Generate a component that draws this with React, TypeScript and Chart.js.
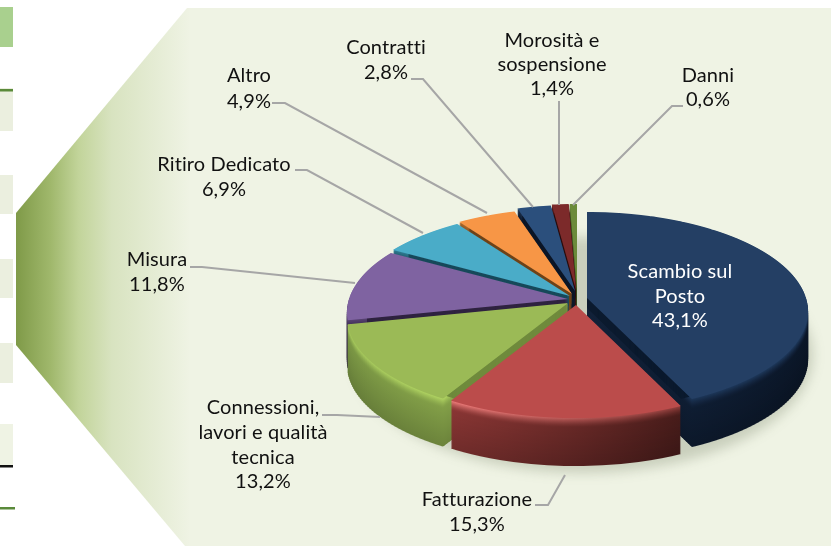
import React, { useEffect, useRef } from "react";
import { Chart, registerables } from "chart.js";

Chart.register(...registerables);

const W = 831;
const H = 547;

// data
const categories = ["Scambio sul Posto", "Fatturazione", "Connessioni, lavori e qualità tecnica", "Misura", "Ritiro Dedicato", "Altro", "Contratti", "Morosità e sospensione", "Danni"];
const shares = [43.1, 15.3, 13.2, 11.8, 6.9, 4.9, 2.8, 1.4, 0.6];
const faceColors = ["#243f64", "#bb4c4b", "#9bba56", "#7f63a1", "#4aacc8", "#f79646", "#2b4f7c", "#7c2a2a", "#6b8a3a"];
const rimLeft = ["#12233c", "#8f3836", "#7f9c47", "#3a2a4e", "#1e4d5c", "#7a4a1e", "#0d1a2d", "#3a1212", "#3d4f20"];
const rimRight = ["#0b1729", "#4a1d1b", "#90ae4e", "#3a2a4e", "#1e4d5c", "#7a4a1e", "#0d1a2d", "#3a1212", "#3d4f20"];
const hiLeft = ["#1c3556", "#f58280", "#a9cc5e", "#5a4575", "#2e7f96", "#b06a2a", "#1a2e4a", "#5a1c1c", "#54702c"];
const hiRight = ["#1f3a5e", "#96403e", "#bfe46a", "#5a4575", "#2e7f96", "#b06a2a", "#1a2e4a", "#5a1c1c", "#54702c"];
const wallColors = ["#0b1a2e", "#5a2422", "#6f8a3c", "#2f2340", "#17495a", "#6e4318", "#0b1526", "#2a0e0e", "#3d4f20"];
const apexX = [587, 576, 568, 568, 570, 572, 575, 576, 577];
const apexY = [298, 305, 303, 299, 296, 294, 291, 290, 290];
const paintOrder = [8, 7, 6, 5, 4, 3, 0, 2, 1];

const labelLines = [
  ["Scambio sul", "Posto", "43,1%"],
  ["Fatturazione", "15,3%"],
  ["Connessioni,", "lavori e qualità", "tecnica", "13,2%"],
  ["Misura", "11,8%"],
  ["Ritiro Dedicato", "6,9%"],
  ["Altro", "4,9%"],
  ["Contratti", "2,8%"],
  ["Morosità e", "sospensione", "1,4%"],
  ["Danni", "0,6%"],
];
const labelX = [680, 477, 263, 157, 224, 249, 386, 552, 708];
const labelY = [272, 500, 408, 260, 165, 76, 48, 41, 76];
const labelStep = [24.5, 24.5, 24.6, 25, 25, 26, 25, 24, 24];
const leaders: number[][][] = [
  [],
  [[535, 505], [548, 505], [565, 475]],
  [[322, 415], [337, 415], [380, 417]],
  [[190, 267], [202, 267], [355, 283]],
  [[295, 170], [307, 170], [423, 233]],
  [[272, 103], [285, 103], [487, 213]],
  [[411, 79], [423, 79], [533, 207]],
  [[559, 101], [559, 205]],
  [[683, 106], [672, 106], [573, 205]],
];

// pie projection
const RX = 219;
const RY = 97.7;
const PERSP = 0.1357;
const DEPTH = 48;
const GLOW_DEPTH = 10;
const FONT = '20px Lato, "Open Sans", sans-serif';

function rgb(c: string) {
  return [1, 3, 5].map((i) => parseInt(c.slice(i, i + 2), 16));
}
function mix(a: string, b: string, t: number) {
  const x = rgb(a);
  const y = rgb(b);
  const out = x.map((v, i) => Math.round(v + (y[i] - v) * t).toString(16).padStart(2, "0"));
  return "#" + out.join("");
}

function sliceRange(arc: any) {
  let minY = 0, maxY = 0, minX = 0, maxX = 0;
  for (let i = 0; i <= 40; i++) {
    const t = arc.startAngle + ((arc.endAngle - arc.startAngle) * i) / 40;
    const x = Math.cos(t), y = Math.sin(t);
    minY = Math.min(minY, y); maxY = Math.max(maxY, y);
    minX = Math.min(minX, x); maxX = Math.max(maxX, x);
  }
  return { minX, maxX, minY, maxY };
}

function drawProjected(ctx: CanvasRenderingContext2D, arc: any, ax: number, ay: number, fill: any, h: number, shrink = 1) {
  const R = arc.outerRadius;
  const range = sliceRange(arc);
  const top = Math.floor(ay + (RY * range.minY) / (1 - PERSP * range.minY)) - 1;
  const bottom = Math.ceil(ay + (RY * range.maxY) / (1 - PERSP * range.maxY)) + 1;
  const original = arc.options;
  const opts = Object.create(original);
  opts.backgroundColor = fill;
  arc.options = opts;
  arc.outerRadius = R * shrink;
  for (let y = top; y < bottom; y += h) {
    const r0 = y - ay;
    const r1 = r0 + h;
    const Y0 = r0 / (RY + PERSP * r0);
    const Y1 = r1 / (RY + PERSP * r1);
    const Ym = (Y0 + Y1) / 2;
    const sx = RX / (1 - PERSP * Ym) / R;
    const sy = h / ((Y1 - Y0) * R);
    ctx.save();
    ctx.beginPath();
    ctx.rect(0, y, W, h);
    ctx.clip();
    ctx.setTransform(sx, 0, 0, sy, ax - sx * arc.x, y - sy * (arc.y + Y0 * R));
    arc.draw(ctx);
    ctx.restore();
  }
  arc.outerRadius = R;
  arc.options = original;
}

const backdrop = {
  id: "backdrop",
  beforeDraw(chart: any) {
    const ctx: CanvasRenderingContext2D = chart.ctx;
    ctx.save();
    const g = ctx.createLinearGradient(16, 0, 190, 0);
    g.addColorStop(0, "#7f9a48");
    g.addColorStop(0.2, "#a0b86c");
    g.addColorStop(0.36, "#c2d49a");
    g.addColorStop(0.55, "#d8e3c0");
    g.addColorStop(1, "#eff3e4");
    ctx.fillStyle = g;
    ctx.beginPath();
    ctx.moveTo(16, 213);
    ctx.lineTo(187, 8);
    ctx.lineTo(W, 8);
    ctx.lineTo(W, 546);
    ctx.lineTo(185, 546);
    ctx.lineTo(16, 345);
    ctx.closePath();
    ctx.fill();
    ctx.fillStyle = "#a9d08e";
    ctx.fillRect(0, 7, 13, 40);
    ctx.fillStyle = "#ebefdf";
    [[88, 43], [175, 39], [259, 39], [343, 40]].forEach(([y, h]) => ctx.fillRect(0, y, 13, h));
    ctx.fillStyle = "#eff3e4";
    ctx.fillRect(0, 424, 13, 42);
    ctx.fillStyle = "#5a8a3a";
    ctx.fillRect(0, 89, 13, 2.5);
    ctx.fillRect(0, 507, 15, 2.5);
    ctx.fillStyle = "#111111";
    ctx.fillRect(0, 465, 13, 2.5);
    ctx.restore();
  },
};

const pie3d = {
  id: "pie3d",
  beforeDatasetsDraw(chart: any) {
    const ctx: CanvasRenderingContext2D = chart.ctx;
    const arcs = chart.getDatasetMeta(0).data;
    ctx.save();
    ctx.filter = "blur(6px)";
    ctx.fillStyle = "rgba(70,80,50,0.22)";
    ctx.beginPath();
    ctx.ellipse(583, 355, 230, 118, 0, 0, Math.PI * 2);
    ctx.fill();
    ctx.restore();
    for (const i of paintOrder) {
      const arc = arcs[i];
      const R = arc.outerRadius;
      const range = sliceRange(arc);
      for (let d = DEPTH; d >= 1; d--) {
        const g = ctx.createLinearGradient(arc.x + range.minX * R, 0, arc.x + range.maxX * R, 0);
        const glow = Math.pow(Math.max(0, 1 - d / GLOW_DEPTH), 1.5);
        const dim = 0.2 * (d / DEPTH);
        g.addColorStop(0, mix(mix(rimLeft[i], "#000000", dim), hiLeft[i], glow));
        g.addColorStop(1, mix(mix(rimRight[i], "#000000", dim), hiRight[i], glow));
        drawProjected(ctx, arc, apexX[i], apexY[i] + d, g, 2);
      }
      // inner walls keep a flat tone so the rim glow does not show along the cut edges
      for (let d = GLOW_DEPTH; d >= 1; d--) {
        drawProjected(ctx, arc, apexX[i], apexY[i] + d, wallColors[i], 2, 0.91);
      }
      drawProjected(ctx, arc, apexX[i], apexY[i], faceColors[i], 1);
    }
    return false;
  },
};

const annotations = {
  id: "annotations",
  afterDraw(chart: any) {
    const ctx: any = chart.ctx;
    ctx.save();
    ctx.strokeStyle = "#a6a6a6";
    ctx.lineWidth = 2;
    leaders.forEach((pts) => {
      if (!pts.length) return;
      ctx.beginPath();
      pts.forEach(([x, y], k) => (k ? ctx.lineTo(x, y) : ctx.moveTo(x, y)));
      ctx.stroke();
    });
    ctx.font = FONT;
    ctx.letterSpacing = "0.1px";
    ctx.textAlign = "center";
    ctx.textBaseline = "middle";
    labelLines.forEach((lines, i) => {
      ctx.fillStyle = i === 0 ? "#ffffff" : "#111111";
      lines.forEach((t, k) => ctx.fillText(t, labelX[i], labelY[i] + k * labelStep[i]));
    });
    ctx.restore();
  },
};

export default function App() {
  const ref = useRef<HTMLCanvasElement>(null);
  useEffect(() => {
    const chart = new Chart(ref.current as HTMLCanvasElement, {
      type: "pie",
      data: {
        labels: categories,
        datasets: [{ data: shares, backgroundColor: faceColors, borderWidth: 0 }],
      },
      options: {
        animation: false,
        responsive: false,
        plugins: { legend: { display: false }, tooltip: { enabled: false } },
      },
      plugins: [backdrop, pie3d, annotations],
    } as any);
    return () => chart.destroy();
  }, []);
  return (
    <div style={{ position: "absolute", left: 0, top: 0, width: W, height: H, background: "#ffffff" }}>
      <canvas ref={ref} width={W} height={H} style={{ display: "block" }} />
    </div>
  );
}
